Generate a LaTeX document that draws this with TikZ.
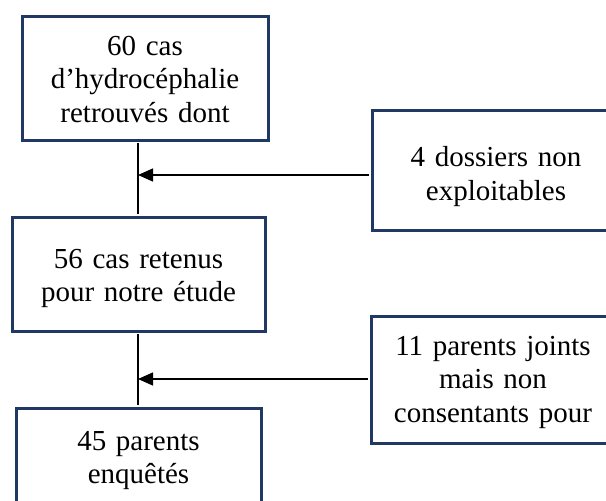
\documentclass[tikz,border=0pt]{standalone}
\usepackage{fontspec}
\setmainfont{Liberation Serif}
\usetikzlibrary{arrows.meta}
\definecolor{navy}{HTML}{1F3864}
\begin{document}
\begin{tikzpicture}[x=1pt,y=-1pt,
  box/.style={draw=navy, line width=3pt, fill=white, inner sep=0pt, align=center,
    font=\fontsize{29}{33.5}\selectfont, anchor=base},
  conn/.style={line width=1.3pt, black},
  arr/.style={conn, -{Triangle[length=15pt,width=13pt]}}]
\useasboundingbox (0,0) rectangle (606,501);
\clip (0,0) rectangle (606,501);
\node[box, text width=246pt, text height=39pt, text depth=85pt] (b1) at (145,55)
  {60 cas\\d’hydrocéphalie\\retrouvés dont};
\node[box, text width=248pt, text height=56.5pt, text depth=63.5pt] (b2) at (496,166.5)
  {4 dossiers non\\exploitables};
\node[box, text width=253pt, text height=51pt, text depth=63pt] (b3) at (138.5,268)
  {56 cas retenus\\pour notre étude};
\node[box, text width=244pt, text height=39pt, text depth=88pt] (b4) at (493,355)
  {11 parents joints\\mais non\\consentants pour};
\node[box, text width=245pt, text height=42pt, text depth=70pt] (b5) at (138.5,450)
  {45 parents\\enquêtés};
\coordinate (v1) at (138,175);
\coordinate (v2) at (138,379);
\draw[conn, shorten <=1.5pt, shorten >=1.5pt] (b1.south -| v1) -- (b3.north -| v1);
\draw[conn, shorten <=1.5pt, shorten >=1.5pt] (b3.south -| v2) -- (b5.north -| v2);
\draw[arr, shorten <=1.5pt] (b2.west |- v1) -- (v1);
\draw[arr, shorten <=1.5pt] (b4.west |- v2) -- (v2);
\end{tikzpicture}
\end{document}
